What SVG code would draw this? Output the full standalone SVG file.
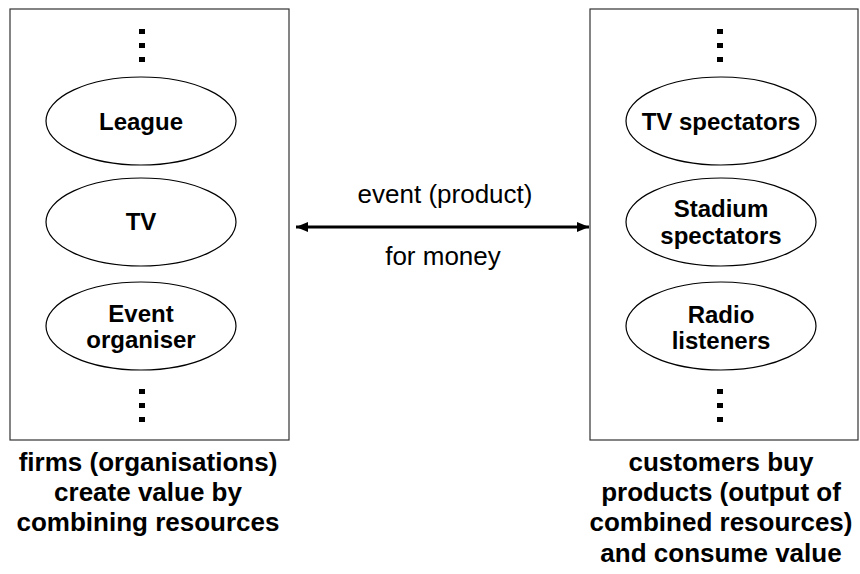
<svg xmlns="http://www.w3.org/2000/svg" width="860" height="574" viewBox="0 0 860 574">
<defs>
<style>
.box{fill:#fff;stroke:#333;stroke-width:1.2}
.node ellipse{fill:#fff;stroke:#000;stroke-width:1.2}
.lbl{font-family:"Liberation Sans",Arial,sans-serif;font-weight:bold;font-size:24px;fill:#000;text-anchor:middle}
.mid{font-family:"Liberation Sans",Arial,sans-serif;font-size:26px;fill:#000;text-anchor:middle}
.cap{font-family:"Liberation Sans",Arial,sans-serif;font-weight:bold;font-size:26px;fill:#000;text-anchor:middle}
.dot{fill:#000}
</style>
<marker id="ah" viewBox="0 0 12 10" refX="12" refY="5" markerWidth="12" markerHeight="10" markerUnits="userSpaceOnUse" orient="auto-start-reverse">
<path d="M0,0 L12,5 L0,10 z" fill="#000"/>
</marker>
</defs>
<rect width="860" height="574" fill="#fff"/>
<g id="firms">
<rect class="box" x="10" y="9" width="279" height="431"/>
<rect class="dot" x="139" y="29" width="6" height="5"/>
<rect class="dot" x="139" y="43" width="6" height="5"/>
<rect class="dot" x="139" y="57" width="6" height="5"/>
<rect class="dot" x="139" y="389" width="6" height="5"/>
<rect class="dot" x="139" y="403" width="6" height="5"/>
<rect class="dot" x="139" y="417" width="6" height="5"/>
</g>
<g id="league" class="node"><ellipse cx="141" cy="121" rx="95" ry="44"/><text class="lbl" x="141" y="130">League</text></g>
<g id="tv" class="node"><ellipse cx="141" cy="222" rx="95" ry="44"/><text class="lbl" x="141" y="230">TV</text></g>
<g id="event-organiser" class="node"><ellipse cx="141" cy="326" rx="95" ry="44"/><text class="lbl" x="141" y="322">Event</text><text class="lbl" x="141" y="348">organiser</text></g>
<g id="customers">
<rect class="box" x="590" y="9" width="268" height="431"/>
<rect class="dot" x="717" y="29" width="6" height="5"/>
<rect class="dot" x="717" y="43" width="6" height="5"/>
<rect class="dot" x="717" y="57" width="6" height="5"/>
<rect class="dot" x="717" y="389" width="6" height="5"/>
<rect class="dot" x="717" y="403" width="6" height="5"/>
<rect class="dot" x="717" y="417" width="6" height="5"/>
</g>
<g id="tv-spectators" class="node"><ellipse cx="721" cy="121" rx="95" ry="44"/><text class="lbl" x="721" y="130">TV spectators</text></g>
<g id="stadium-spectators" class="node"><ellipse cx="721" cy="222" rx="95" ry="44"/><text class="lbl" x="721" y="217">Stadium</text><text class="lbl" x="721" y="244">spectators</text></g>
<g id="radio-listeners" class="node"><ellipse cx="721" cy="326" rx="95" ry="44"/><text class="lbl" x="721" y="323">Radio</text><text class="lbl" x="721" y="349">listeners</text></g>
<g id="connectors">
<line x1="296" y1="227" x2="589" y2="227" stroke="#000" stroke-width="3" marker-start="url(#ah)" marker-end="url(#ah)"/>
<text class="mid" x="445" y="203">event (product)</text>
<text class="mid" x="443" y="265">for money</text>
</g>
<g id="captions">
<text class="cap" x="148" y="471">firms (organisations)</text>
<text class="cap" x="148" y="501">create value by</text>
<text class="cap" x="148" y="531">combining resources</text>
<text class="cap" x="721" y="471">customers buy</text>
<text class="cap" x="721" y="501">products (output of</text>
<text class="cap" x="721" y="531">combined resources)</text>
<text class="cap" x="721" y="562">and consume value</text>
</g>
</svg>
